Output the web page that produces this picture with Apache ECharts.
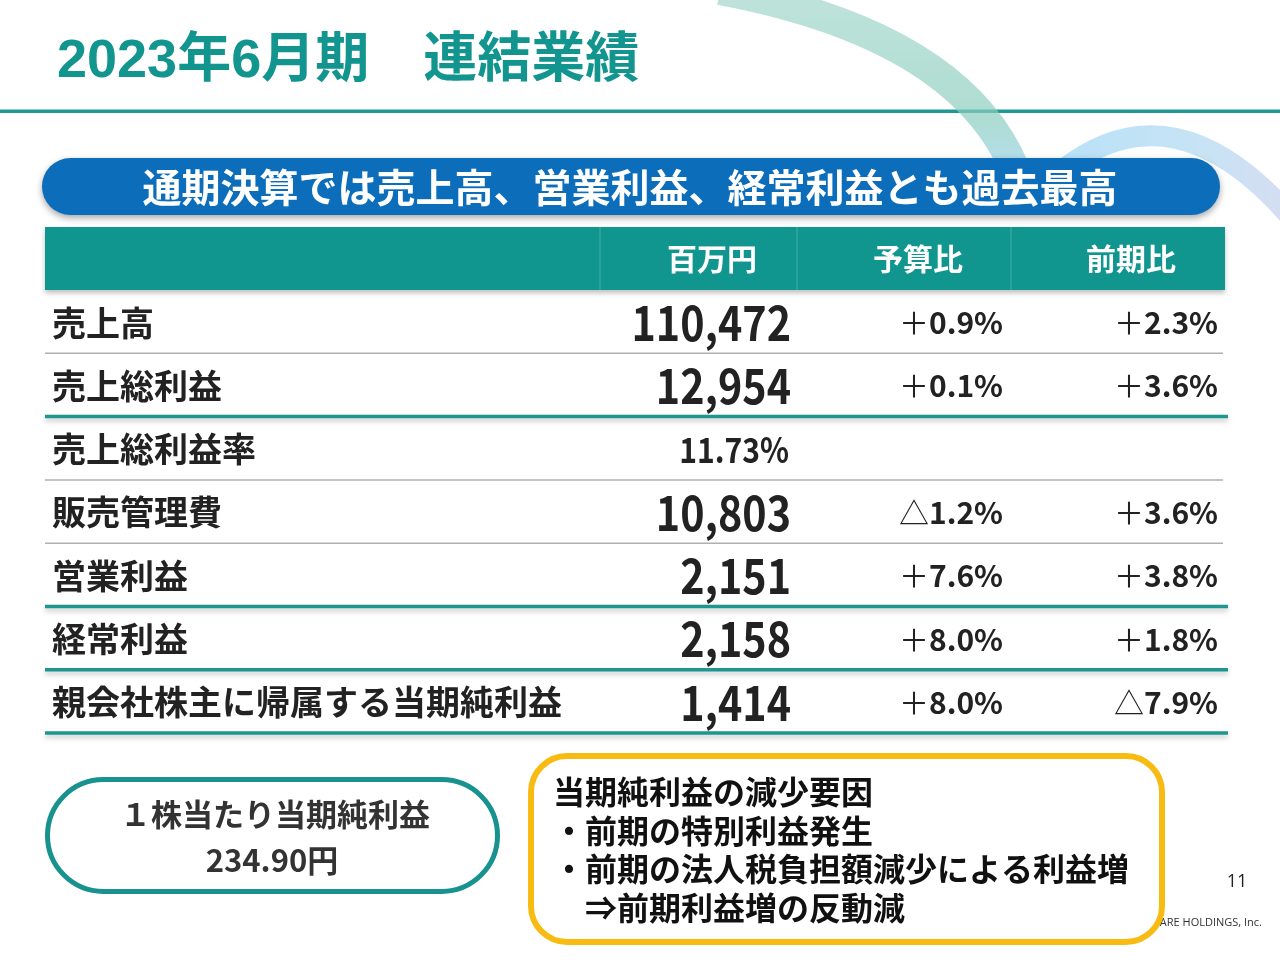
<!DOCTYPE html>
<html>
<head>
<meta charset="utf-8">
<script src="https://cdn.jsdelivr.net/npm/echarts@6/dist/echarts.min.js"></script>
<style>
  html, body { margin: 0; padding: 0; background: #fff; }
  #chart { width: 1280px; height: 960px; }
</style>
</head>
<body>
<div id="chart"></div>
<script>
// table content
const headers = ['百万円', '予算比', '前期比'];
const rowLabels = ['売上高', '売上総利益', '売上総利益率', '販売管理費', '営業利益', '経常利益', '親会社株主に帰属する当期純利益'];
const amountLabels = ['110,472', '12,954', '11.73%', '10,803', '2,151', '2,158', '1,414'];
const budgetRatios = ['+0.9%', '+0.1%', '', '△1.2%', '+7.6%', '+8.0%', '+8.0%'];
const prevRatios = ['+2.3%', '+3.6%', '', '+3.6%', '+3.8%', '+1.8%', '△7.9%'];
const title = '2023年6月期　連結業績';
const headline = '通期決算では売上高、営業利益、経常利益とも過去最高';
const epsLines = ['１株当たり当期純利益', '234.90円'];
const noteLines = ['当期純利益の減少要因', '・前期の特別利益発生', '・前期の法人税負担額減少による利益増', '　⇒前期利益増の反動減'];

const TEAL = '#12958f';
const CJK = "'Noto Sans CJK JP', sans-serif";

let chart = echarts.init(document.getElementById('chart'), null, {renderer: 'canvas'});

const tableLeft = 45, tableRight = 1225;
const headTop = 227, headH = 63;
const rowTop = 290, rowH = 63.3;
const colCenters = [712, 918, 1131];
const colDividers = [600, 797, 1011];
// which rule under each row is teal (thick)
const thickRule = [false, true, false, false, true, true, true];

function ratioText(s) {
    if (!s) return '';
    let sign = s.charAt(0) === '+' ? '＋' : s.charAt(0);
    return '{s|' + sign + '}{v|' + s.slice(1) + '}';
}
const ratioRich = {
    s: {font: 'normal 30px ' + CJK, fill: '#222'},
    v: {font: 'bold 30px ' + CJK, fill: '#222'}
};

let g = [];

// background arcs
g.push({
    type: 'bezierCurve', z: 1,
    shape: {x1: 720, y1: -10, cpx1: 985, cpy1: 40, x2: 1025, y2: 200},
    style: {
        fill: null, lineWidth: 30, lineCap: 'butt',
        stroke: new echarts.graphic.LinearGradient(0, 0, 0, 1, [
            {offset: 0, color: 'rgba(150,210,195,0.6)'},
            {offset: 0.6, color: 'rgba(140,205,190,0.7)'},
            {offset: 0.85, color: 'rgba(150,210,240,0.7)'},
            {offset: 1, color: 'rgba(160,215,245,0.7)'}
        ])
    }
});
g.push({
    type: 'bezierCurve', z: 1,
    shape: {x1: 1060, y1: 172, cpx1: 1175, cpy1: 80, x2: 1295, y2: 222},
    style: {
        fill: null, lineWidth: 21,
        stroke: new echarts.graphic.LinearGradient(0, 0, 1, 0, [
            {offset: 0, color: 'rgba(160,215,245,0.75)'},
            {offset: 0.6, color: 'rgba(175,215,240,0.7)'},
            {offset: 1, color: 'rgba(200,205,235,0.7)'}
        ])
    }
});

// title and rule
g.push({
    type: 'text', z: 5,
    style: {x: 57, y: 62, text: title, font: "bold 54px 'Liberation Sans', 'Noto Sans CJK JP', sans-serif",
        fill: TEAL, verticalAlign: 'middle'}
});
g.push({
    type: 'rect', z: 0,
    shape: {x: 0, y: 109.5, width: 1280, height: 3.5},
    style: {fill: '#1c9a93'}
});

// headline banner
g.push({
    type: 'rect', z: 6,
    shape: {x: 42, y: 158, width: 1178, height: 57, r: 28.5},
    style: {fill: '#0c6dbb', shadowBlur: 7, shadowOffsetY: 3, shadowColor: 'rgba(0,0,0,0.35)'}
});
g.push({
    type: 'text', z: 7,
    style: {x: 630, y: 187, text: headline, font: 'bold 39px ' + CJK, fill: '#fff',
        align: 'center', verticalAlign: 'middle'}
});

// table header
g.push({
    type: 'rect', z: 6,
    shape: {x: tableLeft, y: headTop, width: tableRight - tableLeft, height: headH},
    style: {fill: '#10968f', shadowBlur: 5, shadowOffsetY: 3, shadowColor: 'rgba(0,0,0,0.25)'}
});
colDividers.forEach(function (x) {
    g.push({
        type: 'line', z: 7,
        shape: {x1: x, y1: headTop, x2: x, y2: headTop + headH},
        style: {stroke: 'rgba(255,255,255,0.22)', lineWidth: 1}
    });
});
headers.forEach(function (h, i) {
    g.push({
        type: 'text', z: 8,
        style: {x: colCenters[i], y: headTop + headH / 2, text: h, font: 'bold 30px ' + CJK, fill: '#fff',
            align: 'center', verticalAlign: 'middle'}
    });
});

// table rows
rowLabels.forEach(function (label, i) {
    let cy = rowTop + rowH * i + rowH / 2 + 1;
    let isRate = amountLabels[i].indexOf('%') >= 0;
    g.push({
        type: 'text', z: 8,
        style: {x: 52, y: cy, text: label, font: 'bold 34px ' + CJK, fill: '#222', verticalAlign: 'middle'}
    });
    // condensed look for the amounts
    g.push({
        type: 'text', z: 8,
        x: isRate ? 789 : 791, y: cy, scaleX: isRate ? 0.86 : 0.86,
        style: {x: 0, y: 0, text: amountLabels[i],
            font: (isRate ? 'bold 35px ' : 'bold 48px ') + CJK, fill: '#222',
            align: 'right', verticalAlign: 'middle'}
    });
    g.push({
        type: 'text', z: 8,
        style: {x: 1003, y: cy, text: ratioText(budgetRatios[i]), rich: ratioRich,
            align: 'right', verticalAlign: 'middle'}
    });
    g.push({
        type: 'text', z: 8,
        style: {x: 1218, y: cy, text: ratioText(prevRatios[i]), rich: ratioRich,
            align: 'right', verticalAlign: 'middle'}
    });
    let ly = rowTop + rowH * (i + 1);
    if (thickRule[i]) {
        g.push({
            type: 'line', z: 7,
            shape: {x1: tableLeft, y1: ly, x2: tableRight + 3, y2: ly},
            style: {stroke: '#1c968f', lineWidth: 3.5, shadowBlur: 5, shadowOffsetY: 3,
                shadowColor: 'rgba(0,0,0,0.22)'}
        });
    } else {
        g.push({
            type: 'line', z: 7,
            shape: {x1: tableLeft, y1: ly, x2: tableRight - 2, y2: ly},
            style: {stroke: '#b0b0b0', lineWidth: 1.5}
        });
    }
});

// EPS pill
g.push({
    type: 'rect', z: 6,
    shape: {x: 47.5, y: 779.5, width: 450, height: 112, r: 56},
    style: {fill: '#fff', stroke: '#17928e', lineWidth: 5}
});
g.push({
    type: 'text', z: 8,
    style: {x: 275, y: 814, text: epsLines[0], font: 'bold 31px ' + CJK, fill: '#333',
        align: 'center', verticalAlign: 'middle'}
});
g.push({
    type: 'text', z: 8,
    style: {x: 272, y: 860, text: epsLines[1], font: 'bold 31px ' + CJK, fill: '#333',
        align: 'center', verticalAlign: 'middle'}
});

// footer (partly hidden by note box)
g.push({
    type: 'text', z: 3,
    style: {x: 1262, y: 923, text: 'CARE HOLDINGS, Inc.', font: "normal 11px 'Open Sans', sans-serif",
        fill: '#333', align: 'right', verticalAlign: 'middle'}
});
g.push({
    type: 'text', z: 3,
    style: {x: 1237, y: 882, text: '11', font: "normal 18px 'Open Sans', sans-serif",
        fill: '#222', align: 'center', verticalAlign: 'middle'}
});

// note box
g.push({
    type: 'rect', z: 6,
    shape: {x: 531, y: 756, width: 631, height: 186, r: 36},
    style: {fill: '#fff', stroke: '#f8bb12', lineWidth: 6}
});
noteLines.forEach(function (line, i) {
    g.push({
        type: 'text', z: 8,
        style: {x: 553, y: 792 + i * 38.5, text: line, font: 'bold 32px ' + CJK, fill: '#111',
            verticalAlign: 'middle'}
    });
});

chart.setOption({
    backgroundColor: '#fff',
    animation: false,
    graphic: {elements: g}
});
</script>
</body>
</html>
